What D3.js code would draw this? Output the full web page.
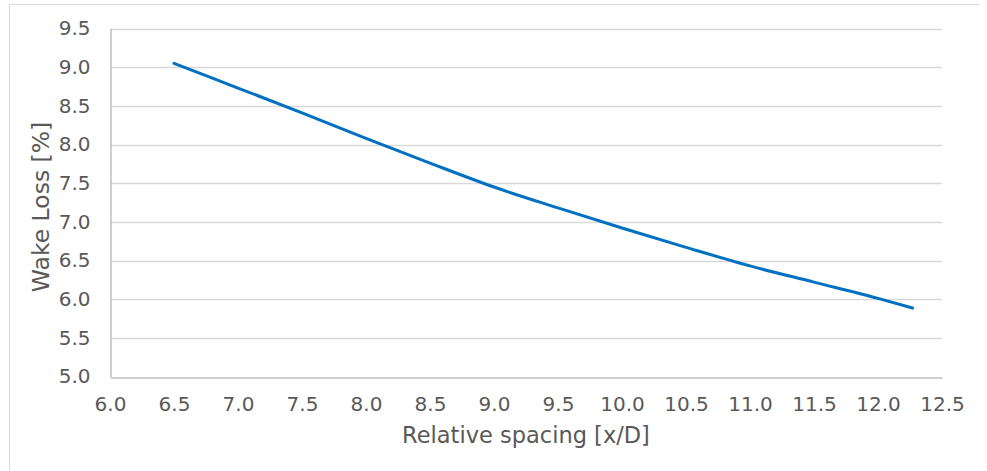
<!DOCTYPE html>
<html>
<head>
<meta charset="utf-8">
<script src="https://cdn.jsdelivr.net/npm/d3@7"></script>
<style>
  body { margin: 0; background: #fff; }
  text { font-family: "DejaVu Sans", Verdana, sans-serif; fill: #595959; }
</style>
</head>
<body>
<div id="chart"></div>
<script>
// values
const spacing = [6.5, 7.0, 7.5, 8.0, 8.5, 9.0, 9.5, 10.0, 10.5, 11.0, 11.5, 12.0, 12.27];
const wakeLoss = [9.05, 8.73, 8.41, 8.08, 7.76, 7.45, 7.18, 6.92, 6.67, 6.43, 6.22, 6.01, 5.885];
const xTicks = [6.0, 6.5, 7.0, 7.5, 8.0, 8.5, 9.0, 9.5, 10.0, 10.5, 11.0, 11.5, 12.0, 12.5];
const yTicks = [5.0, 5.5, 6.0, 6.5, 7.0, 7.5, 8.0, 8.5, 9.0, 9.5];

const width = 987, height = 471;
const margin = { top: 28.5, right: 45, bottom: 94.5, left: 110 };

const svg = d3.select("#chart").append("svg")
    .attr("width", width)
    .attr("height", height);

// outer chart border (top and left edges visible)
svg.append("line")
    .attr("x1", 9.5).attr("x2", 980)
    .attr("y1", 4.5).attr("y2", 4.5)
    .attr("stroke", "#d9d9d9");
svg.append("line")
    .attr("x1", 9.5).attr("x2", 9.5)
    .attr("y1", 4.5).attr("y2", height)
    .attr("stroke", "#d9d9d9");

const x = d3.scaleLinear()
    .domain([6.0, 12.5])
    .range([margin.left, width - margin.right]);

const y = d3.scaleLinear()
    .domain([5.0, 9.5])
    .range([height - margin.bottom, margin.top]);

// gridlines
svg.append("g")
    .selectAll("line")
    .data(yTicks.slice(1))
    .enter()
    .append("line")
    .attr("x1", x(6.0))
    .attr("x2", x(12.5))
    .attr("y1", d => Math.round(y(d)) + 0.5)
    .attr("y2", d => Math.round(y(d)) + 0.5)
    .attr("stroke", "#d9d9d9")
    .attr("stroke-width", 1.5);

// axes
const xAxis = svg.append("g")
    .attr("transform", `translate(0,${Math.round(y(5.0)) + 0.5})`)
    .call(d3.axisBottom(x).tickValues(xTicks).tickFormat(d3.format(".1f")).tickSize(0).tickPadding(19));

const yAxis = svg.append("g")
    .attr("transform", `translate(${Math.round(x(6.0)) + 0.5},0)`)
    .call(d3.axisLeft(y).tickValues(yTicks).tickFormat(d3.format(".1f")).tickSize(0).tickPadding(20));

[xAxis, yAxis].forEach(g => {
    g.select(".domain").attr("stroke", "#bfbfbf").attr("stroke-width", 1.5);
    g.selectAll("text")
        .style("font-size", "20px")
        .attr("fill", "#595959")
        .style("font-family", "\"DejaVu Sans\", Verdana, sans-serif");
});

// data line
const line = d3.line()
    .x((d, i) => x(spacing[i]))
    .y(d => y(d))
    .curve(d3.curveMonotoneX);

svg.append("path")
    .datum(wakeLoss)
    .attr("d", line)
    .attr("fill", "none")
    .attr("stroke", "#0070c0")
    .attr("stroke-width", 3)
    .attr("stroke-linecap", "round");

// axis titles
svg.append("text")
    .text("Relative spacing [x/D]")
    .attr("x", (x(6.0) + x(12.5)) / 2)
    .attr("y", 443)
    .attr("text-anchor", "middle")
    .style("font-size", "22.5px");

svg.append("text")
    .text("Wake Loss [%]")
    .attr("transform", `translate(49,207) rotate(-90)`)
    .attr("text-anchor", "middle")
    .style("font-size", "23.5px");
</script>
</body>
</html>
